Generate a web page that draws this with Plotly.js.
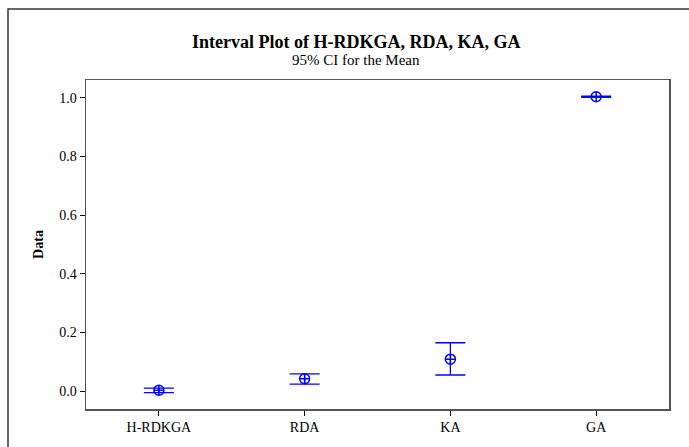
<!DOCTYPE html>
<html>
<head>
<meta charset="utf-8">
<script src="https://cdn.plot.ly/plotly-3.0.1.min.js"></script>
<style>html,body{margin:0;padding:0;background:#fff;}</style>
</head>
<body>
<div id="chart" style="width:689px;height:447px;"></div>
<script>
var categories = ["H-RDKGA", "RDA", "KA", "GA"];
var means = [0.003, 0.042, 0.109, 1.004];
var upperCI = [0.010, 0.059, 0.165, 1.006];
var lowerCI = [-0.005, 0.024, 0.055, 1.002];

var plus = means.map(function(m, i){ return upperCI[i] - m; });
var minus = means.map(function(m, i){ return m - lowerCI[i]; });

var serif = "Liberation Serif, Times New Roman, serif";

var trace = {
  type: "scatter",
  mode: "markers",
  x: [0, 1, 2, 3],
  y: means,
  marker: {symbol: "circle-cross-open", size: 10, color: "#0000FF", line: {width: 1.5, color: "#0000FF"}},
  error_y: {type: "data", symmetric: false, array: plus, arrayminus: minus, color: "#0000FF", thickness: 1.3, width: 15},
  hoverinfo: "skip",
  showlegend: false
};

var layout = {
  width: 689, height: 447,
  margin: {l: 86, r: 20, t: 80, b: 38},
  paper_bgcolor: "#fff", plot_bgcolor: "#fff",
  font: {family: serif, color: "#000", size: 14},
  xaxis: {
    range: [-0.5, 3.5], tickvals: [0, 1, 2, 3], ticktext: categories,
    showgrid: false, zeroline: false, showline: true, mirror: true,
    linecolor: "#555", linewidth: 1.5, ticks: "outside", ticklen: 5, tickcolor: "#000",
    tickfont: {family: serif, size: 14, color: "#000"}, fixedrange: true
  },
  yaxis: {
    range: [-0.061, 1.061], tickvals: [0, 0.2, 0.4, 0.6, 0.8, 1.0], ticktext: ["0.0","0.2","0.4","0.6","0.8","1.0"],
    showgrid: false, zeroline: false, showline: true, mirror: true,
    linecolor: "#555", linewidth: 1.5, ticks: "outside", ticklen: 5, tickcolor: "#000",
    tickfont: {family: serif, size: 14, color: "#000"},
    title: {text: "<b>Data</b>", font: {family: serif, size: 14, color: "#000"}, standoff: 12},
    fixedrange: true
  },
  annotations: [
    {xref: "paper", yref: "paper", x: 0.463, y: (409 - 42) / 329, text: "<b>Interval Plot of H-RDKGA, RDA, KA, GA</b>",
     showarrow: false, xanchor: "center", yanchor: "middle", font: {family: serif, size: 18, color: "#000"}},
    {xref: "paper", yref: "paper", x: 0.463, y: (409 - 60) / 329, text: "95% CI for the Mean",
     showarrow: false, xanchor: "center", yanchor: "middle", font: {family: serif, size: 15, color: "#000"}}
  ],
  shapes: [
    {type: "rect", xref: "paper", yref: "paper", x0: (8 - 86) / 583, x1: (720 - 86) / 583,
     y0: (409 - 470) / 329, y1: (409 - 9) / 329, line: {color: "#333", width: 1.5}, fillcolor: "rgba(0,0,0,0)", layer: "below"}
  ]
};

Plotly.newPlot("chart", [trace], layout, {displayModeBar: false, staticPlot: true});
</script>
</body>
</html>
